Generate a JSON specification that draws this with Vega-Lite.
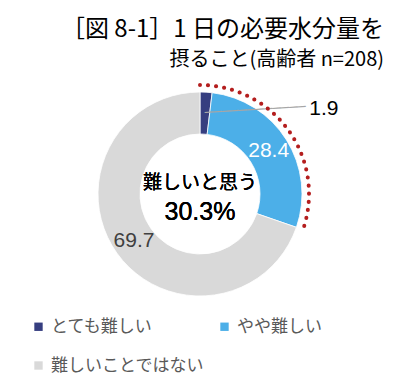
{
  "$schema": "https://vega.github.io/schema/vega-lite/v6.json",
  "width": 400,
  "height": 204,
  "autosize": "none",
  "padding": {"left": 0, "right": 0, "top": 92, "bottom": 91},
  "background": "white",
  "config": {"view": {"stroke": null}, "font": "Noto Sans CJK JP"},
  "title": {
    "text": "［図 8-1］1 日の必要水分量を　　 ",
    "subtitle": "摂ること(高齢者 n=208)",
    "anchor": "end",
    "dx": -16,
    "offset": 7,
    "font": "Noto Sans CJK JP",
    "fontSize": 24,
    "fontWeight": "normal",
    "color": "#000000",
    "subtitleFont": "Noto Sans CJK JP",
    "subtitleFontSize": 20,
    "subtitleColor": "#000000",
    "subtitlePadding": 8
  },
  "data": {
    "values": [
      {"cat": "とても難しい", "v": 1.9},
      {"cat": "やや難しい", "v": 28.4},
      {"cat": "難しいことではない", "v": 69.7}
    ]
  },
  "layer": [
    {
      "mark": {"type": "arc", "innerRadius": 60, "outerRadius": 102, "stroke": "white", "strokeWidth": 0.8},
      "encoding": {
        "theta": {"field": "v", "type": "quantitative", "stack": true, "scale": {"domain": [0, 100]}},
        "color": {
          "field": "cat",
          "type": "nominal",
          "scale": {
            "domain": ["とても難しい", "やや難しい", "難しいことではない"],
            "range": ["#363E80", "#4CAFE8", "#D9D9D9"]
          },
          "legend": {
            "title": null,
            "orient": "none",
            "legendX": 30,
            "legendY": 226,
            "direction": "horizontal",
            "columns": 2,
            "symbolType": "square",
            "symbolSize": 70,
            "symbolStrokeWidth": 0,
            "labelFont": "Noto Sans CJK JP",
            "labelFontSize": 17,
            "labelColor": "#595959",
            "labelLimit": 300,
            "columnPadding": 12,
            "rowPadding": 21
          }
        }
      }
    },
    {
      "mark": {"type": "text", "radius": 81, "font": "Liberation Sans", "fontSize": 21, "align": "center", "baseline": "middle"},
      "encoding": {
        "theta": {"field": "v", "type": "quantitative", "stack": true},
        "text": {"field": "v", "type": "quantitative", "format": ".1f"},
        "color": {"condition": {"test": "datum.cat === 'やや難しい'", "value": "#FFFFFF"}, "value": "#404040"},
        "opacity": {"condition": {"test": "datum.v < 5", "value": 0}, "value": 1}
      }
    },
    {
      "transform": [{"filter": "datum.v < 5"}],
      "mark": {"type": "text", "radius": 81, "font": "Liberation Sans", "fontSize": 21, "align": "center", "baseline": "middle", "dx": 119, "dy": -4, "color": "#000000"},
      "encoding": {
        "theta": {"field": "v", "type": "quantitative", "stack": true},
        "text": {"field": "v", "type": "quantitative", "format": ".1f"}
      }
    },
    {
      "transform": [{"filter": "datum.v < 5"}],
      "mark": {"type": "text", "radius": 81, "font": "DejaVu Sans", "fontSize": 14, "align": "left", "baseline": "middle", "angle": -3.4, "color": "#A6A6A6", "text": "────────────"},
      "encoding": {
        "theta": {"field": "v", "type": "quantitative", "stack": true}
      }
    },
    {
      "data": {"values": [{"s": 0, "e": 30.3}]},
      "mark": {"type": "arc", "innerRadius": 109, "outerRadius": 109, "filled": false, "stroke": "#B41E1E", "strokeWidth": 4, "strokeCap": "round", "strokeDash": [0, 8.137]},
      "encoding": {
        "theta": {"field": "s", "type": "quantitative", "stack": null},
        "theta2": {"field": "e"}
      }
    },
    {
      "mark": {"type": "text", "text": "難しいと思う", "font": "Noto Sans CJK JP", "fontSize": 19, "color": "#000000", "align": "center", "baseline": "middle", "dy": -11},
      "encoding": {}
    },
    {
      "mark": {"type": "text", "text": "30.3%", "font": "Liberation Sans", "fontSize": 25, "color": "#000000", "align": "center", "baseline": "middle", "dy": 18},
      "encoding": {}
    }
  ]
}
